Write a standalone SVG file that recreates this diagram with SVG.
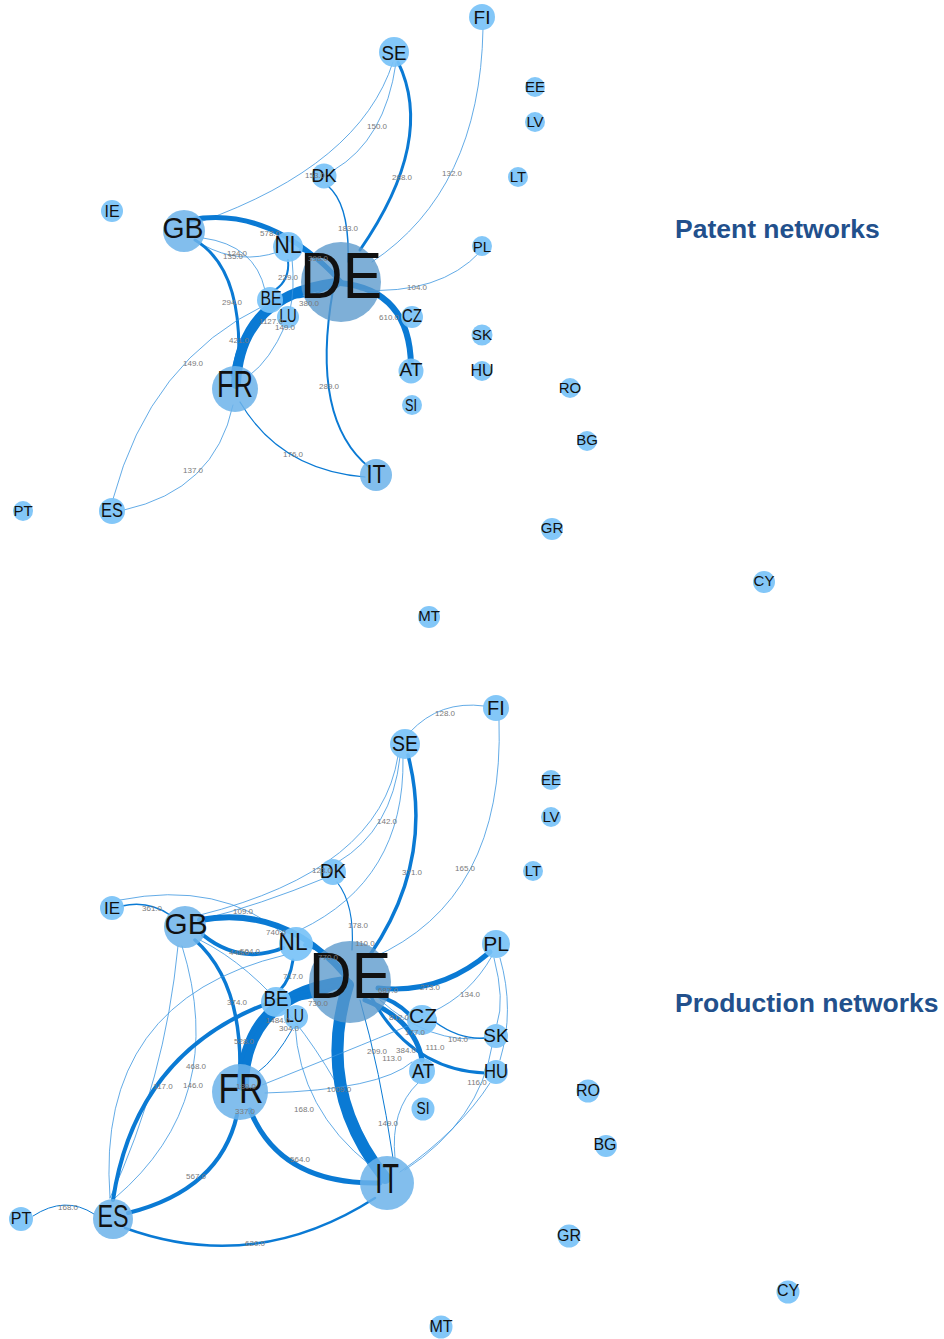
<svg xmlns="http://www.w3.org/2000/svg" width="944" height="1339" viewBox="0 0 944 1339">
<style>
.e{fill:none;stroke:#0a7ad4;stroke-linecap:round}
.th{stroke:#3b96e0;stroke-width:0.8}
.lb{font-family:"Liberation Sans",Arial,sans-serif;font-size:8px;fill:#7a7a7a;text-anchor:middle}
.n{fill:#78c2f7;fill-opacity:0.92}
.m{fill:#6cb3ea;fill-opacity:0.85}
.d{fill:#5a98cc;fill-opacity:0.78}
.t{font-family:"Liberation Sans",Arial,sans-serif;fill:#111;text-anchor:middle}
.title{font-family:"Liberation Sans",Arial,sans-serif;font-weight:bold;font-size:26.5px;fill:#22508c}
</style>
<rect width="944" height="1339" fill="#fff"/>

<g id="connectors">
<g id="edges-patent">
<path class="e th" d="M396,63 Q385,140 334,170"/>
<path class="e th" d="M393,62 Q360,165 200,222"/>
<path class="e" stroke-width="3" d="M398,62 Q436,140 360,250"/>
<path class="e th" d="M483,29 Q480,190 372,262"/>
<path class="e" stroke-width="1.5" d="M328,186 Q350,205 348,262"/>
<path class="e" stroke-width="5" d="M190,220 Q270,205 341,282"/>
<path class="e th" d="M203,245 Q240,265 278,252"/>
<path class="e th" d="M203,238 Q255,245 265,290"/>
<path class="e" stroke-width="3" d="M195,240 Q245,270 238,372"/>
<path class="e" stroke-width="10" d="M236,384 Q240,295 336,283"/>
<path class="e" stroke-width="3" d="M268,305 Q240,330 232,375"/>
<path class="e" stroke-width="2" d="M288,260 Q290,280 275,290"/>
<path class="e" stroke-width="2" d="M300,250 Q320,255 335,275"/>
<path class="e" stroke-width="2" d="M280,298 Q310,300 338,283"/>
<path class="e th" d="M285,326 Q270,360 250,375"/>
<path class="e th" d="M292,258 Q295,290 290,310"/>
<path class="e th" d="M265,305 Q150,360 113,499"/>
<path class="e th" d="M233,405 Q215,490 124,510"/>
<path class="e" stroke-width="1.2" d="M240,402 Q280,470 365,477"/>
<path class="e" stroke-width="2" d="M333,290 Q310,420 370,468"/>
<path class="e" stroke-width="6" d="M340,283 Q410,290 411,366"/>
<path class="e th" d="M360,290 Q440,295 480,252"/>
</g>
<g id="edges-production">
<path class="e th" d="M410,732 Q440,700 484,706"/>
<path class="e th" d="M499,720 Q505,900 372,958"/>
<path class="e" stroke-width="3.5" d="M408,755 Q435,860 370,955"/>
<path class="e th" d="M400,757 Q392,830 338,862"/>
<path class="e th" d="M398,756 Q380,870 200,915"/>
<path class="e th" d="M403,758 Q405,880 300,930"/>
<path class="e th" d="M325,878 Q260,905 200,920"/>
<path class="e" stroke-width="1.2" d="M337,882 Q355,905 352,950"/>
<path class="e" stroke-width="1.5" d="M122,906 Q148,900 170,915"/>
<path class="e th" d="M120,900 Q220,880 285,935"/>
<path class="e" stroke-width="6" d="M200,920 Q285,905 345,975"/>
<path class="e" stroke-width="4" d="M203,935 Q240,965 283,948"/>
<path class="e" stroke-width="4" d="M305,945 Q330,950 345,975"/>
<path class="e" stroke-width="3.5" d="M195,940 Q240,980 240,1065"/>
<path class="e th" d="M200,940 Q300,990 375,1160"/>
<path class="e th" d="M182,946 Q230,1100 115,1198"/>
<path class="e th" d="M178,946 Q165,1080 110,1198"/>
<path class="e" stroke-width="12" d="M243,1085 Q245,995 345,982"/>
<path class="e" stroke-width="12" d="M348,985 Q315,1090 385,1178"/>
<path class="e" stroke-width="5" d="M250,1110 Q280,1185 380,1183"/>
<path class="e" stroke-width="4" d="M237,1115 Q220,1190 128,1213"/>
<path class="e" stroke-width="4" d="M113,1200 Q140,1020 335,985"/>
<path class="e th" d="M110,1198 Q95,1000 285,955"/>
<path class="e" stroke-width="2.5" d="M125,1228 Q255,1275 375,1198"/>
<path class="e" stroke-width="1" d="M33,1216 Q65,1195 94,1214"/>
<path class="e" stroke-width="5" d="M378,988 Q440,995 490,952"/>
<path class="e" stroke-width="5" d="M365,1000 Q415,1020 422,1060"/>
<path class="e" stroke-width="3" d="M370,995 Q410,1070 485,1073"/>
<path class="e" stroke-width="4" d="M375,995 Q395,1000 410,1015"/>
<path class="e th" d="M380,1000 Q430,1045 485,1038"/>
<path class="e th" d="M492,956 Q470,995 432,1012"/>
<path class="e th" d="M500,958 Q515,1010 500,1060"/>
<path class="e th" d="M494,958 Q505,1000 497,1024"/>
<path class="e th" d="M492,1046 Q480,1120 405,1170"/>
<path class="e th" d="M400,1172 Q460,1130 490,1083"/>
<path class="e th" d="M418,1083 Q390,1110 395,1158"/>
<path class="e" stroke-width="1" d="M360,1000 Q380,1070 393,1158"/>
<path class="e th" d="M295,1025 Q300,1110 370,1165"/>
<path class="e th" d="M265,1093 Q380,1090 412,1062"/>
<path class="e th" d="M262,1085 Q350,1050 410,1025"/>
<path class="e" stroke-width="3" d="M285,1000 Q315,1000 340,985"/>
<path class="e" stroke-width="3" d="M293,960 Q290,980 280,990"/>
<path class="e" stroke-width="1" d="M293,1028 Q275,1060 258,1072"/>
<path class="e" stroke-width="4" d="M268,1012 Q245,1040 240,1065"/>
<path class="e" stroke-width="1.5" d="M435,1022 Q460,1040 485,1038"/>
</g>
</g>

<g id="nodes-patent">
<g id="p-FI"><circle class="n" cx="482" cy="17" r="13"/><text class="t" x="482" y="24" font-size="19">FI</text></g>
<g id="p-SE"><circle class="n" cx="394" cy="52" r="15"/><text class="t" x="394" y="60" font-size="21" textLength="25" lengthAdjust="spacingAndGlyphs">SE</text></g>
<g id="p-EE"><circle class="n" cx="535" cy="87" r="10"/><text class="t" x="535" y="92" font-size="15">EE</text></g>
<g id="p-LV"><circle class="n" cx="535" cy="122" r="10"/><text class="t" x="535" y="127" font-size="15">LV</text></g>
<g id="p-DK"><circle class="n" cx="324" cy="176" r="12.5"/><text class="t" x="324" y="182" font-size="19" textLength="25" lengthAdjust="spacingAndGlyphs">DK</text></g>
<g id="p-LT"><circle class="n" cx="518" cy="177" r="10"/><text class="t" x="518" y="182" font-size="15">LT</text></g>
<g id="p-IE"><circle class="n" cx="112" cy="211" r="11"/><text class="t" x="112" y="217" font-size="16">IE</text></g>
<g id="p-GB"><circle class="m" cx="184" cy="231" r="21"/><text class="t" x="183" y="238" font-size="30" textLength="41" lengthAdjust="spacingAndGlyphs">GB</text></g>
<g id="p-NL"><circle class="n" cx="288" cy="247" r="15"/><text class="t" x="288" y="253" font-size="23" textLength="27" lengthAdjust="spacingAndGlyphs">NL</text></g>
<g id="p-PL"><circle class="n" cx="482" cy="246" r="10"/><text class="t" x="482" y="252" font-size="15">PL</text></g>
<g id="p-DE"><circle class="d" cx="341" cy="282" r="40"/><text class="t" x="341" y="298" font-size="64" textLength="82" lengthAdjust="spacingAndGlyphs">DE</text></g>
<g id="p-BE"><circle class="n" cx="270" cy="300" r="13"/><text class="t" x="271" y="305" font-size="20" textLength="21" lengthAdjust="spacingAndGlyphs">BE</text></g>
<g id="p-LU"><circle class="n" cx="288" cy="317" r="11"/><text class="t" x="288" y="322" font-size="18" textLength="17" lengthAdjust="spacingAndGlyphs">LU</text></g>
<g id="p-CZ"><circle class="n" cx="412" cy="317" r="11"/><text class="t" x="412" y="322" font-size="18" textLength="20" lengthAdjust="spacingAndGlyphs">CZ</text></g>
<g id="p-SK"><circle class="n" cx="482" cy="335" r="10.5"/><text class="t" x="482" y="340" font-size="15">SK</text></g>
<g id="p-AT"><circle class="n" cx="411" cy="371" r="12.5"/><text class="t" x="411" y="376" font-size="19" textLength="23" lengthAdjust="spacingAndGlyphs">AT</text></g>
<g id="p-HU"><circle class="n" cx="482" cy="371" r="10"/><text class="t" x="482" y="376" font-size="16">HU</text></g>
<g id="p-FR"><circle class="m" cx="235" cy="389" r="23"/><text class="t" x="235" y="397" font-size="37" textLength="36" lengthAdjust="spacingAndGlyphs">FR</text></g>
<g id="p-RO"><circle class="n" cx="570" cy="388" r="10"/><text class="t" x="570" y="393" font-size="15">RO</text></g>
<g id="p-SI"><circle class="n" cx="412" cy="405" r="10"/><text class="t" x="411" y="411" font-size="16" textLength="12" lengthAdjust="spacingAndGlyphs">SI</text></g>
<g id="p-BG"><circle class="n" cx="587" cy="441" r="10"/><text class="t" x="587" y="445" font-size="15">BG</text></g>
<g id="p-IT"><circle class="m" cx="376" cy="475" r="16"/><text class="t" x="376" y="483" font-size="25" textLength="19" lengthAdjust="spacingAndGlyphs">IT</text></g>
<g id="p-PT"><circle class="n" cx="23" cy="511" r="10"/><text class="t" x="23" y="516" font-size="15">PT</text></g>
<g id="p-ES"><circle class="n" cx="112" cy="511" r="13"/><text class="t" x="112" y="517" font-size="21" textLength="22" lengthAdjust="spacingAndGlyphs">ES</text></g>
<g id="p-GR"><circle class="n" cx="552" cy="529" r="11"/><text class="t" x="552" y="533" font-size="15">GR</text></g>
<g id="p-CY"><circle class="n" cx="764" cy="582" r="11"/><text class="t" x="764" y="586" font-size="15">CY</text></g>
<g id="p-MT"><circle class="n" cx="429" cy="617" r="11"/><text class="t" x="429" y="621" font-size="15">MT</text></g>
</g>

<g id="nodes-production">
<g id="q-FI"><circle class="n" cx="496" cy="708" r="13"/><text class="t" x="496" y="715" font-size="20">FI</text></g>
<g id="q-SE"><circle class="n" cx="405" cy="744" r="15"/><text class="t" x="405" y="751" font-size="22" textLength="26" lengthAdjust="spacingAndGlyphs">SE</text></g>
<g id="q-EE"><circle class="n" cx="551" cy="780" r="10"/><text class="t" x="551" y="785" font-size="15">EE</text></g>
<g id="q-LV"><circle class="n" cx="551" cy="817" r="10"/><text class="t" x="551" y="822" font-size="15">LV</text></g>
<g id="q-DK"><circle class="n" cx="333" cy="872" r="13"/><text class="t" x="333" y="878" font-size="20" textLength="26" lengthAdjust="spacingAndGlyphs">DK</text></g>
<g id="q-LT"><circle class="n" cx="533" cy="871" r="10"/><text class="t" x="533" y="876" font-size="15">LT</text></g>
<g id="q-IE"><circle class="n" cx="112" cy="908" r="12"/><text class="t" x="112" y="914" font-size="17">IE</text></g>
<g id="q-GB"><circle class="m" cx="185" cy="927" r="21"/><text class="t" x="186" y="934" font-size="30" textLength="43" lengthAdjust="spacingAndGlyphs">GB</text></g>
<g id="q-NL"><circle class="n" cx="296" cy="944" r="17"/><text class="t" x="293" y="950" font-size="24" textLength="29" lengthAdjust="spacingAndGlyphs">NL</text></g>
<g id="q-PL"><circle class="n" cx="496" cy="944" r="14"/><text class="t" x="496" y="951" font-size="21">PL</text></g>
<g id="q-DE"><circle class="d" cx="350" cy="982" r="41"/><text class="t" x="350" y="998" font-size="64" textLength="82" lengthAdjust="spacingAndGlyphs">DE</text></g>
<g id="q-BE"><circle class="n" cx="276" cy="1002" r="15"/><text class="t" x="276" y="1006" font-size="22" textLength="25" lengthAdjust="spacingAndGlyphs">BE</text></g>
<g id="q-LU"><circle class="n" cx="296" cy="1017" r="12"/><text class="t" x="295" y="1022" font-size="18" textLength="18" lengthAdjust="spacingAndGlyphs">LU</text></g>
<g id="q-CZ"><circle class="n" cx="422" cy="1020" r="15"/><text class="t" x="423" y="1023" font-size="21" textLength="28" lengthAdjust="spacingAndGlyphs">CZ</text></g>
<g id="q-SK"><circle class="n" cx="496" cy="1036" r="12"/><text class="t" x="496" y="1042" font-size="19">SK</text></g>
<g id="q-AT"><circle class="n" cx="422" cy="1071" r="13"/><text class="t" x="423" y="1078" font-size="21" textLength="22" lengthAdjust="spacingAndGlyphs">AT</text></g>
<g id="q-HU"><circle class="n" cx="496" cy="1072" r="12"/><text class="t" x="496" y="1078" font-size="20" textLength="24" lengthAdjust="spacingAndGlyphs">HU</text></g>
<g id="q-FR"><circle class="m" cx="240" cy="1092" r="28"/><text class="t" x="241" y="1103" font-size="42" textLength="45" lengthAdjust="spacingAndGlyphs">FR</text></g>
<g id="q-RO"><circle class="n" cx="588" cy="1091" r="11.5"/><text class="t" x="588" y="1096" font-size="16">RO</text></g>
<g id="q-SI"><circle class="n" cx="423" cy="1109" r="11.5"/><text class="t" x="423" y="1114" font-size="16" textLength="13" lengthAdjust="spacingAndGlyphs">SI</text></g>
<g id="q-BG"><circle class="n" cx="606" cy="1146" r="11"/><text class="t" x="605" y="1150" font-size="16">BG</text></g>
<g id="q-IT"><circle class="m" cx="387" cy="1183" r="27"/><text class="t" x="387" y="1193" font-size="42" textLength="24" lengthAdjust="spacingAndGlyphs">IT</text></g>
<g id="q-PT"><circle class="n" cx="21" cy="1219" r="12"/><text class="t" x="21" y="1224" font-size="16">PT</text></g>
<g id="q-ES"><circle class="m" cx="113" cy="1219" r="20"/><text class="t" x="113" y="1227" font-size="32" textLength="31" lengthAdjust="spacingAndGlyphs">ES</text></g>
<g id="q-GR"><circle class="n" cx="569" cy="1236" r="11.5"/><text class="t" x="569" y="1241" font-size="16">GR</text></g>
<g id="q-CY"><circle class="n" cx="788" cy="1292" r="11.5"/><text class="t" x="788" y="1296" font-size="16">CY</text></g>
<g id="q-MT"><circle class="n" cx="441" cy="1327" r="11.5"/><text class="t" x="441" y="1332" font-size="16">MT</text></g>
</g>

<g id="edge-labels">
<text class="lb" x="377" y="129">150.0</text>
<text class="lb" x="315" y="178">153.0</text>
<text class="lb" x="402" y="180">288.0</text>
<text class="lb" x="452" y="176">132.0</text>
<text class="lb" x="348" y="231">183.0</text>
<text class="lb" x="270" y="236">578.0</text>
<text class="lb" x="237" y="256">124.0</text>
<text class="lb" x="233" y="259">135.0</text>
<text class="lb" x="318" y="261">398.0</text>
<text class="lb" x="288" y="280">229.0</text>
<text class="lb" x="417" y="290">104.0</text>
<text class="lb" x="232" y="305">294.0</text>
<text class="lb" x="309" y="306">380.0</text>
<text class="lb" x="271" y="324">1127.0</text>
<text class="lb" x="285" y="330">149.0</text>
<text class="lb" x="389" y="320">610.0</text>
<text class="lb" x="239" y="343">421.0</text>
<text class="lb" x="193" y="366">149.0</text>
<text class="lb" x="329" y="389">289.0</text>
<text class="lb" x="293" y="457">176.0</text>
<text class="lb" x="193" y="473">137.0</text>

<text class="lb" x="445" y="716">128.0</text>
<text class="lb" x="387" y="824">142.0</text>
<text class="lb" x="412" y="875">371.0</text>
<text class="lb" x="465" y="871">165.0</text>
<text class="lb" x="322" y="873">123.0</text>
<text class="lb" x="152" y="911">361.0</text>
<text class="lb" x="243" y="914">109.0</text>
<text class="lb" x="358" y="928">178.0</text>
<text class="lb" x="276" y="935">740.0</text>
<text class="lb" x="365" y="946">110.0</text>
<text class="lb" x="239" y="955">448.0</text>
<text class="lb" x="250" y="954">504.0</text>
<text class="lb" x="328" y="960">770.0</text>
<text class="lb" x="293" y="979">717.0</text>
<text class="lb" x="388" y="993">687.0</text>
<text class="lb" x="430" y="990">273.0</text>
<text class="lb" x="470" y="997">134.0</text>
<text class="lb" x="237" y="1005">374.0</text>
<text class="lb" x="318" y="1006">730.0</text>
<text class="lb" x="399" y="1020">812.0</text>
<text class="lb" x="278" y="1023">1484.0</text>
<text class="lb" x="289" y="1031">304.0</text>
<text class="lb" x="415" y="1035">177.0</text>
<text class="lb" x="458" y="1042">104.0</text>
<text class="lb" x="244" y="1044">528.0</text>
<text class="lb" x="435" y="1050">111.0</text>
<text class="lb" x="406" y="1053">384.0</text>
<text class="lb" x="377" y="1054">209.0</text>
<text class="lb" x="392" y="1061">113.0</text>
<text class="lb" x="196" y="1069">468.0</text>
<text class="lb" x="163" y="1089">117.0</text>
<text class="lb" x="193" y="1088">146.0</text>
<text class="lb" x="246" y="1089">189.0</text>
<text class="lb" x="339" y="1092">1009.0</text>
<text class="lb" x="477" y="1085">116.0</text>
<text class="lb" x="304" y="1112">168.0</text>
<text class="lb" x="245" y="1114">337.0</text>
<text class="lb" x="388" y="1126">149.0</text>
<text class="lb" x="300" y="1162">564.0</text>
<text class="lb" x="196" y="1179">567.0</text>
<text class="lb" x="68" y="1210">168.0</text>
<text class="lb" x="255" y="1246">620.0</text>
</g>

<g id="titles">
<text class="title" x="675" y="238">Patent networks</text>
<text class="title" x="675" y="1012">Production networks</text>
</g>
</svg>
